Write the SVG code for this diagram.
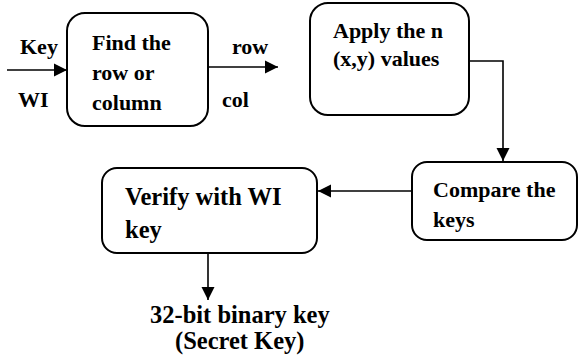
<svg xmlns="http://www.w3.org/2000/svg" width="579" height="358" viewBox="0 0 579 358">
<style>
.box{fill:#fff;stroke:#000;stroke-width:2}
.t{font-family:'Liberation Serif','Tinos','Times New Roman','DejaVu Serif',serif;font-weight:700;font-size:22px;fill:#000}
.big{font-size:24.5px}
.ln{stroke:#000;stroke-width:1.6;fill:none}
</style>
<defs>
<marker id="ah" markerUnits="userSpaceOnUse" markerWidth="14" markerHeight="14" viewBox="0 0 14 14" refX="13" refY="7" orient="auto">
<path d="M0,0.5 L13,7 L0,13.5 Z" fill="#000"/>
</marker>
</defs>
<g id="connectors">
<line class="ln" x1="7" y1="70" x2="67" y2="70" marker-end="url(#ah)"/>
<line class="ln" x1="204" y1="67" x2="278" y2="67" marker-end="url(#ah)"/>
<polyline class="ln" points="457,61 503,61 503,161" marker-end="url(#ah)"/>
<line class="ln" x1="412" y1="191" x2="318" y2="191" marker-end="url(#ah)"/>
<line class="ln" x1="208" y1="253" x2="208" y2="300" marker-end="url(#ah)"/>
</g>
<g id="labels">
<text class="t" x="20" y="54">Key</text>
<text class="t" x="18" y="107">WI</text>
<text class="t" x="232" y="54">row</text>
<text class="t" x="222" y="107">col</text>
</g>
<g id="find">
<rect class="box" x="67" y="13" width="141" height="113" rx="18"/>
<text class="t" x="92" y="50">Find the</text>
<text class="t" x="92" y="80">row or</text>
<text class="t" x="92" y="110">column</text>
</g>
<g id="apply">
<rect class="box" x="310" y="3" width="159" height="112" rx="18"/>
<text class="t" x="333" y="38">Apply the n</text>
<text class="t" x="333" y="66">(x,y) values</text>
</g>
<g id="compare">
<rect class="box" x="412" y="162" width="165" height="78" rx="15"/>
<text class="t" x="433" y="197">Compare the</text>
<text class="t" x="433" y="227">keys</text>
</g>
<g id="verify">
<rect class="box" x="102" y="168" width="215" height="85" rx="15"/>
<text class="t big" x="125" y="205">Verify with WI</text>
<text class="t big" x="125" y="238">key</text>
</g>
<g id="output">
<text class="t big" x="150" y="323">32-bit binary key</text>
<text class="t big" x="175" y="349">(Secret Key)</text>
</g>
</svg>
